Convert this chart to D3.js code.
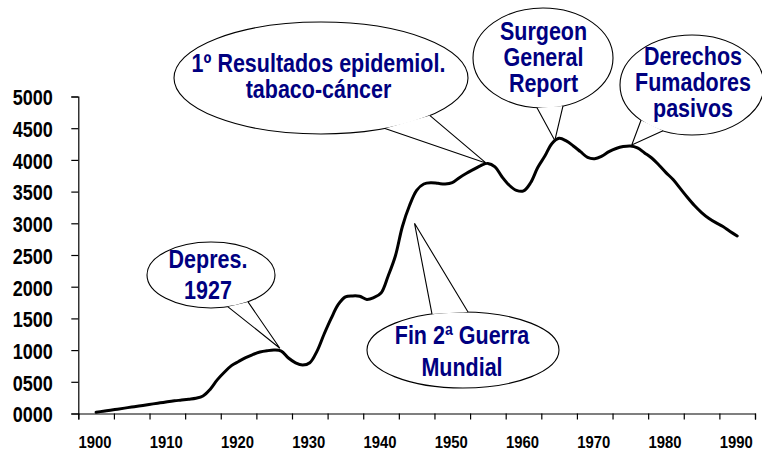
<!DOCTYPE html>
<html><head><meta charset="utf-8">
<script src="https://cdn.jsdelivr.net/npm/d3@7"></script>
<style>body{margin:0;background:#fff;} svg{display:block;}</style>
</head><body><svg id="c" width="762" height="455"></svg>
<script>
// ---- data ----
const years = d3.range(1900, 1991);
const values = [
  20, 36, 52, 68, 85, 102, 118, 135, 152, 168,          // 1900-1909
  185, 200, 212, 225, 240, 275, 380, 530, 650, 755,     // 1910-1919
  820, 880, 930, 970, 990, 1000, 985, 875, 800, 765,    // 1920-1929
  800, 980, 1250, 1500, 1720, 1840, 1855, 1850, 1800, 1830, // 1930-1939
  1900, 2170, 2480, 2950, 3280, 3520, 3620, 3640, 3630, 3620, // 1940-1949
  3640, 3720, 3790, 3850, 3910, 3945, 3890, 3730, 3600, 3520, // 1950-1959
  3510, 3640, 3880, 4060, 4260, 4340, 4300, 4220, 4130, 4040, // 1960-1969
  4020, 4060, 4130, 4180, 4210, 4220, 4190, 4110, 4030, 3920, // 1970-1979
  3800, 3690, 3550, 3410, 3280, 3170, 3080, 3010, 2950, 2870, // 1980-1989
  2800                                                   // 1990
];
const yTickValues = [0, 500, 1000, 1500, 2000, 2500, 3000, 3500, 4000, 4500, 5000];
const xLabelYears = [1900, 1910, 1920, 1930, 1940, 1950, 1960, 1970, 1980, 1990];
const xTickYears = d3.range(1897.5, 1993, 5);
const noteTexts = [
  ["Depres.", "1927"],
  ["1º Resultados epidemiol.", "tabaco-cáncer"],
  ["Surgeon", "General", "Report"],
  ["Derechos", "Fumadores", "pasivos"],
  ["Fin 2ª Guerra", "Mundial"]
];
const noteYears = [1925.8, 1954.8, 1964.4, 1975.2, 1944.7];
const noteValues = [1030, 3946, 4306, 4235, 3000];

// ---- layout ----
const noteLayout = [
  {cx: 211, cy: 275, rx: 64, ry: 33, base: [228, 248], side: 1, tx: 208, ty: [268, 299]},
  {cx: 321, cy: 78, rx: 147, ry: 56, base: [385, 430], side: 1, tx: 318.5, ty: [72, 98]},
  {cx: 543, cy: 58, rx: 70, ry: 50, base: [537, 563], side: 1, tx: 543.5, ty: [40, 66, 92]},
  {cx: 692, cy: 85, rx: 72, ry: 50, base: [641, 663], side: 1, tx: 693, ty: [65, 91, 117]},
  {cx: 463, cy: 350, rx: 96, ry: 38, base: [432, 468], side: -1, tx: 462, ty: [344, 376]}
];

const svg = d3.select("#c");
const x = d3.scaleLinear().domain([1897.5, 1992.5]).range([78.3, 755]);
const y = d3.scaleLinear().domain([0, 5000]).range([413.5, 96.5]);

const font = "'Liberation Sans', Arial, sans-serif";

// Y axis
const yAxis = svg.append("g").attr("transform", `translate(${x.range()[0]},0)`)
  .call(d3.axisLeft(y).tickValues(yTickValues).tickSize(7).tickPadding(0).tickFormat(d3.format("04d")));
yAxis.select(".domain").attr("stroke", "#000").attr("stroke-width", 1.2);
yAxis.selectAll(".tick line").attr("stroke", "#000").attr("stroke-width", 1.2);
yAxis.selectAll(".tick text").attr("font-family", font).attr("font-weight", "bold")
  .attr("font-size", 22).attr("fill", "#000").attr("dy", "0.38em")
  .attr("x", 0).attr("transform", "translate(-25.5,0) scale(0.82,1)");

// X axis ticks
const xAxis = svg.append("g").attr("transform", `translate(0,${y(0)})`)
  .call(d3.axisBottom(x).tickValues(xTickYears).tickSize(6).tickFormat(""));
xAxis.select(".domain").attr("stroke", "#000").attr("stroke-width", 1.2);
xAxis.selectAll(".tick line").attr("stroke", "#000").attr("stroke-width", 1.2);
// X labels
const xLab = svg.append("g").attr("transform", `translate(0,${y(0)})`)
  .call(d3.axisBottom(x).tickValues(xLabelYears).tickSize(0).tickPadding(0).tickFormat(d3.format("d")));
xLab.select(".domain").remove();
xLab.selectAll(".tick text").attr("font-family", font).attr("font-weight", "bold")
  .attr("font-size", 16.5).attr("fill", "#000").attr("dy", null).attr("y", 0)
  .attr("transform", "translate(-1.5,34) scale(0.9,1)");

// line
const line = d3.line().x((d, i) => x(years[i])).y(d => y(d)).curve(d3.curveCatmullRom.alpha(0.5));
svg.append("path").datum(values).attr("d", line)
  .attr("fill", "none").attr("stroke", "#000").attr("stroke-width", 3)
  .attr("stroke-linejoin", "round").attr("stroke-linecap", "round");

// callouts
noteLayout.forEach((L, k) => {
  const g = svg.append("g");
  const tip = [x(noteYears[k]), y(noteValues[k])];
  const bp = L.base.map(bx => {
    const t = Math.sqrt(Math.max(0, 1 - Math.pow((bx - L.cx) / L.rx, 2)));
    return [bx, L.cy + L.side * L.ry * t];
  });
  g.append("ellipse").attr("cx", L.cx).attr("cy", L.cy).attr("rx", L.rx).attr("ry", L.ry)
    .attr("fill", "#fff").attr("stroke", "#000").attr("stroke-width", 1.1);
  g.append("path").attr("d", `M${bp[0]}L${tip}L${bp[1]}Z`).attr("fill", "#fff").attr("stroke", "none");
  g.append("path").attr("d", `M${bp[0]}L${tip}L${bp[1]}`).attr("fill", "none")
    .attr("stroke", "#000").attr("stroke-width", 1.1).attr("stroke-linejoin", "miter");
  g.selectAll("text").data(noteTexts[k]).join("text")
    .attr("transform", (d, i) => `translate(${L.tx},${L.ty[i]}) scale(0.86,1)`)
    .attr("text-anchor", "middle").attr("font-family", font).attr("font-weight", "bold")
    .attr("font-size", 25).attr("fill", "#000080").text(d => d);
});
</script></body></html>
